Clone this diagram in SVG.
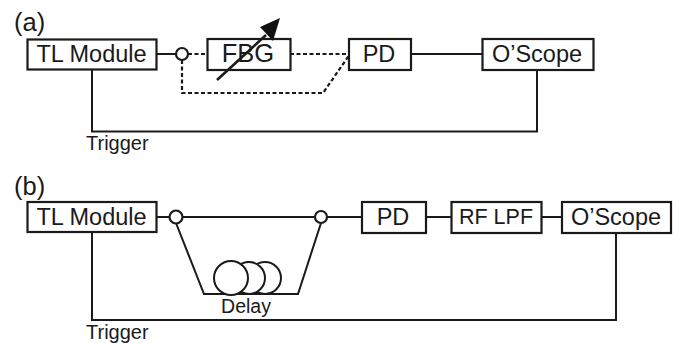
<svg xmlns="http://www.w3.org/2000/svg" width="678" height="343" viewBox="0 0 678 343">
<defs>
<style>
text{font-family:"Liberation Sans",Arial,sans-serif;fill:#1a1a1a}
.box{fill:#fff;stroke:#1a1a1a;stroke-width:2.2}
.lbl{font-size:23.5px;text-anchor:middle}
.line{fill:none;stroke:#1a1a1a;stroke-width:2}
.dash{fill:none;stroke:#1a1a1a;stroke-width:2.2;stroke-dasharray:4 2.5}
.coil{fill:#fff;stroke:#1a1a1a;stroke-width:2}
.coup{fill:#fff;stroke:#1a1a1a;stroke-width:2.2}
.small{font-size:20px}
.tag{font-size:25.5px}
</style>
</defs>
<g id="connectors">
<path class="line" d="M157 54H176"/>
<path class="dash" d="M188 54H208"/>
<path class="dash" d="M290 54H350"/>
<path class="dash" d="M182 60V93H323L350 54"/>
<path class="line" d="M412 54H482"/>
<path class="line" d="M92 70V131.500H537V70"/>
<path class="line" d="M157 217H170"/>
<path class="line" d="M182 217H315"/>
<path class="line" d="M328 217H362"/>
<path class="line" d="M176 223L204 294H298L321 223"/>
<path class="line" d="M427 217H451"/>
<path class="line" d="M542 217H562"/>
<path class="line" d="M92 233V320H616V233"/>
</g>
<g id="label-a"><text class="tag" x="14" y="31">(a)</text></g>
<g id="tl-a"><rect class="box" x="27.500" y="39.500" width="129" height="30"/><text class="lbl" x="91.500" y="61.500">TL Module</text></g>
<g id="coupler-a"><circle class="coup" cx="182" cy="54" r="6"/></g>
<g id="fbg"><rect class="box" x="207.500" y="39" width="83" height="31"/><text class="lbl" x="248" y="62" style="font-size:25.5px">FBG</text></g>
<g id="tunable-arrow"><path class="line" style="stroke-width:2.6" d="M217 80L266 35"/><path d="M280 18L273 41L260 27Z" fill="#111"/></g>
<g id="pd-a"><rect class="box" x="349" y="39" width="62" height="31"/><text class="lbl" x="379" y="61.500">PD</text></g>
<g id="scope-a"><rect class="box" x="482.500" y="39" width="111" height="31"/><text class="lbl" x="537" y="61.500">O’Scope</text></g>
<g id="trigger-a"><text class="small" x="86" y="150">Trigger</text></g>
<g id="label-b"><text class="tag" x="14" y="195">(b)</text></g>
<g id="tl-b"><rect class="box" x="27.500" y="202" width="129" height="30"/><text class="lbl" x="91.500" y="224.500">TL Module</text></g>
<g id="coupler-b1"><circle class="coup" cx="176" cy="217" r="6.500"/></g>
<g id="coupler-b2"><circle class="coup" cx="321" cy="217" r="6"/></g>
<g id="delay"><circle class="coil" cx="265" cy="278" r="16"/><circle class="coil" cx="249" cy="278" r="16"/><circle class="coil" cx="231" cy="278" r="17"/><text x="246" y="313" text-anchor="middle" font-size="19.500">Delay</text></g>
<g id="pd-b"><rect class="box" x="362" y="202" width="64" height="31"/><text class="lbl" x="393" y="224.500">PD</text></g>
<g id="lpf"><rect class="box" x="451.500" y="202" width="90" height="31"/><text class="lbl" x="496" y="224" style="font-size:21.5px">RF LPF</text></g>
<g id="scope-b"><rect class="box" x="562" y="202" width="109" height="31"/><text class="lbl" x="616" y="224.500">O’Scope</text></g>
<g id="trigger-b"><text class="small" x="86" y="339">Trigger</text></g>
</svg>
